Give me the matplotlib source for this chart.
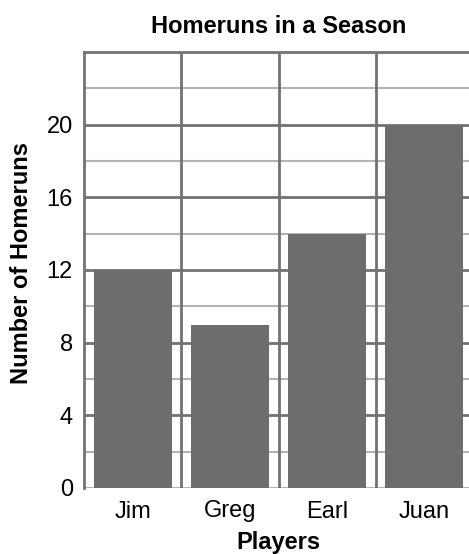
import matplotlib.pyplot as plt
import numpy as np

players = ["Jim", "Greg", "Earl", "Juan"]
homeruns = [12, 9, 14, 20]
y_major = [0, 4, 8, 12, 16, 20]

plt.rcParams['font.family'] = ['Liberation Sans', 'DejaVu Sans']

W, H = 469, 554
fig = plt.figure(figsize=(W / 100, H / 100), dpi=100)
ax = fig.add_axes([84 / W, 1 - 488 / H, 389 / W, 436 / H])

x = np.arange(len(players))
ax.bar(x, homeruns, width=0.8, color="#6d6d6e", zorder=3)

ax.set_xlim(-0.5, len(players) - 0.5)
ax.set_ylim(0, 24)

# grid lines
for v in np.arange(2, 24, 4):
    ax.axhline(v, color="#b4b4b4", lw=1.5, zorder=1)
for v in np.arange(4, 24, 4):
    ax.axhline(v, color="#727272", lw=2, zorder=1)
ax.axhline(0, color="#b4b4b4", lw=1.5, zorder=1)
for v in np.arange(0.5, len(players) - 0.5, 1):
    ax.axvline(v, color="#727272", lw=2, zorder=2)

for s in ["left", "top", "right"]:
    ax.spines[s].set_color("#727272")
    ax.spines[s].set_linewidth(2)
ax.spines["bottom"].set_visible(False)

ax.set_xticks(x)
ax.set_xticklabels(players)
ax.set_yticks(y_major)
ax.tick_params(axis="both", length=0, labelsize=17)
ax.tick_params(axis="x", pad=9)
ax.tick_params(axis="y", pad=8)

ax.set_title("Homeruns in a Season", fontsize=17, fontweight="bold", pad=14)
ax.set_xlabel("Players", fontsize=17, fontweight="bold", labelpad=6)
ax.set_ylabel("Number of Homeruns", fontsize=17, fontweight="bold")
ax.yaxis.set_label_coords(-0.13, 0.516)

fig.savefig("out.png", dpi=100)
